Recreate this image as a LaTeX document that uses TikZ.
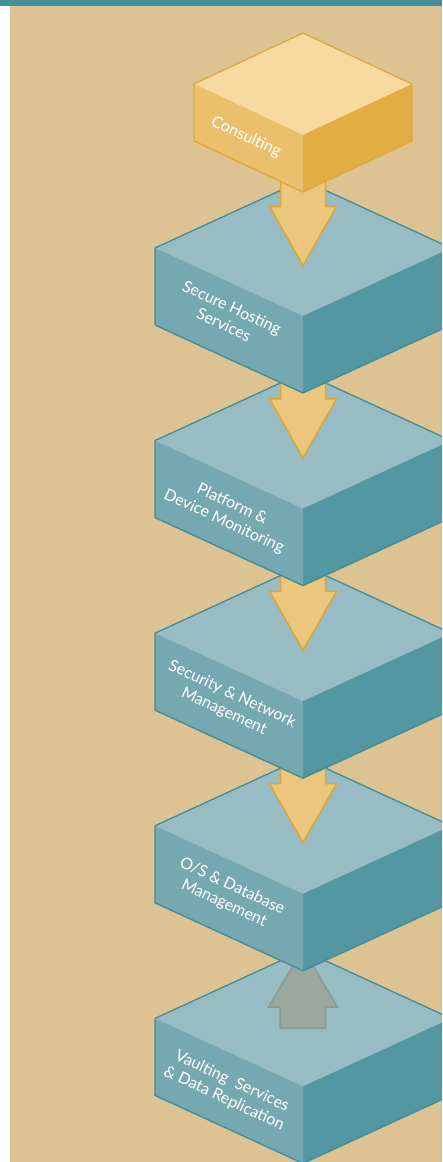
\documentclass[tikz,border=0pt]{standalone}
\usepackage{fontspec}
\setmainfont{Lato}
\definecolor{sand}{HTML}{DEC392}
\definecolor{bar}{HTML}{428F9A}
\definecolor{tealtop}{HTML}{97BCC4}
\definecolor{tealleft}{HTML}{76A8B2}
\definecolor{tealright}{HTML}{5397A3}
\definecolor{tealline}{HTML}{3F8D99}
\definecolor{goldtop}{HTML}{F8D99F}
\definecolor{goldleft}{HTML}{EBC06C}
\definecolor{goldright}{HTML}{E0AE42}
\definecolor{goldline}{HTML}{DEA93C}
\definecolor{arrowfill}{HTML}{EBC67C}
\definecolor{arrowline}{HTML}{DEA631}
\definecolor{greyfill}{HTML}{9AA89F}
\definecolor{greyline}{HTML}{8C9A90}

% #1 colour set, #2 x of top corner, #3 y of top corner, #4 half width, #5 half depth, #6 height
\newcommand{\isobox}[6]{%
  \fill[#1top] (#2,#3) -- (#2+#4,#3+#5) -- (#2,#3+2*#5) -- (#2-#4,#3+#5) -- cycle;
  \fill[#1left] (#2-#4,#3+#5) -- (#2,#3+2*#5) -- (#2,#3+2*#5+#6) -- (#2-#4,#3+#5+#6) -- cycle;
  \fill[#1right] (#2,#3+2*#5) -- (#2+#4,#3+#5) -- (#2+#4,#3+#5+#6) -- (#2,#3+2*#5+#6) -- cycle;
  \draw[#1line, line width=1.3pt, line join=round]
    (#2,#3) -- (#2+#4,#3+#5) -- (#2+#4,#3+#5+#6) -- (#2,#3+2*#5+#6)
    -- (#2-#4,#3+#5+#6) -- (#2-#4,#3+#5) -- cycle;
}
% #1 y of the tip
\newcommand{\flowdown}[1]{%
  \draw[flowarrow] (280.5,#1-90) -- (280.5,#1-59) -- (269.5,#1-59) -- (303,#1)
    -- (336.5,#1-59) -- (325.5,#1-59) -- (325.5,#1-90) -- cycle;
}

\tikzset{
  flowarrow/.style={fill=arrowfill, draw=arrowline, line width=1.5pt, line join=miter},
  backarrow/.style={fill=greyfill, draw=greyline, line width=1.5pt},
  facetext/.style={text=white, font=\fontsize{16}{19}\selectfont, align=center, rotate=-25, inner sep=0pt}
}

\begin{document}
\begin{tikzpicture}[x=1pt, y=-1pt]
  \useasboundingbox (0,0) rectangle (442,1162);
  \clip (0,0) rectangle (442,1162);
  \fill[white] (0,0) rectangle (442,1162);
  \fill[sand] (10,5) rectangle (442,1162);
  \fill[bar] (0,0) rectangle (442,5.5);

  % from the bottom up, so each box covers the arrow below it
  \isobox{teal}{303}{950.4}{148}{68}{77}
  \draw[backarrow] (280,1028) -- (280,1007) -- (268.5,1007) -- (303,949)
    -- (337.5,1007) -- (325.5,1007) -- (325.5,1028) -- cycle;
  \node[facetext] (vaulting) at (228,1090) {Vaulting~ Services\\\& Data Replication};

  \isobox{teal}{303}{757.8}{148}{68}{77}
  \node[facetext] (database) at (228,895) {O/S \& Database\\Management};
  \flowdown{842.7}

  \isobox{teal}{303}{565.2}{148}{68}{77}
  \node[facetext] (network) at (228,703) {Security \& Network\\Management};
  \flowdown{650.3}

  \isobox{teal}{303}{372.6}{148}{68}{77}
  \node[facetext] (monitoring) at (228,513) {Platform \&\\Device Monitoring};
  \flowdown{457.9}

  \isobox{teal}{303}{180}{148}{68}{77}
  \node[facetext] (hosting) at (228,316) {Secure Hosting\\Services};
  \flowdown{265.5}

  \isobox{gold}{303}{33}{109}{51}{57}
  \node[facetext] (consulting) at (246,137) {Consulting};
\end{tikzpicture}
\end{document}
